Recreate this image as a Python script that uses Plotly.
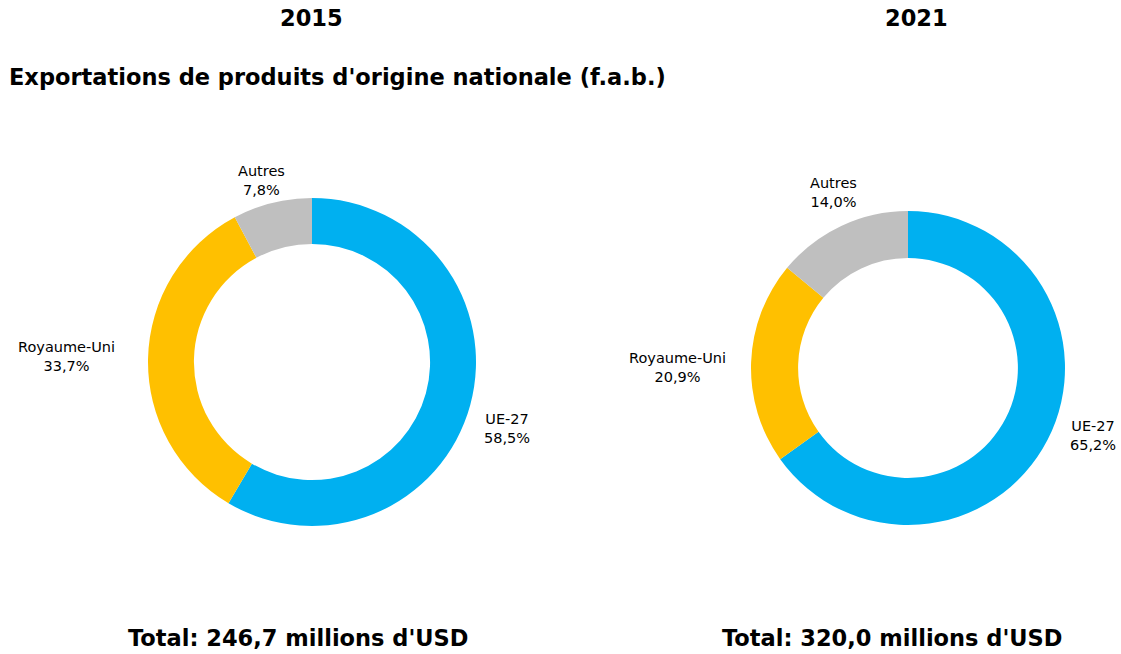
import plotly.graph_objects as go

categories = ["UE-27", "Royaume-Uni", "Autres"]
values_2015 = [58.5, 33.7, 7.8]
values_2021 = [65.2, 20.9, 14.0]
years = ["2015", "2021"]
totals = ["246,7", "320,0"]
colors = ["#00B0F0", "#FFC000", "#BFBFBF"]

W, H = 1121, 654
FONT = "DejaVu Sans"


def px(x):
    return x / W


def py(y):
    return 1 - y / H


def fmt(v):
    return f"{v:.1f}".replace(".", ",")


def dom(cx, cy, r):
    return dict(x=[px(cx - r), px(cx + r)], y=[py(cy + r), py(cy - r)])


# layout: pie centre/radius/hole and label positions (pixels)
pie_layout = [
    dict(c=(312, 362), r=164, hole=0.72,
         labels=[(507, 429), (66, 356), (261, 180)], year_x=311, total_x=298),
    dict(c=(908, 368), r=157, hole=0.70,
         labels=[(1093, 435), (677, 367), (833, 193)], year_x=916, total_x=892),
]
series = [values_2015, values_2021]

fig = go.Figure()
ann = []
for vals, lay, yr, tot in zip(series, pie_layout, years, totals):
    fig.add_trace(go.Pie(
        labels=categories, values=vals, sort=False, direction="clockwise", rotation=0,
        hole=lay["hole"], domain=dom(*lay["c"], lay["r"]),
        marker=dict(colors=colors, line=dict(width=0)),
        textinfo="none", showlegend=False, hoverinfo="label+value",
    ))
    for c, v, (lx, ly) in zip(categories, vals, lay["labels"]):
        ann.append(dict(text=f"{c}<br>{fmt(v)}%", x=px(lx), y=py(ly), xref="paper", yref="paper",
                        xanchor="center", yanchor="middle", showarrow=False,
                        font=dict(family=FONT, size=14.5, color="#000")))
    ann.append(dict(text=f"<b>{yr}</b>", x=px(lay["year_x"]), y=py(18), xref="paper", yref="paper",
                    xanchor="center", yanchor="middle", showarrow=False,
                    font=dict(family=FONT, size=22.5, color="#000")))
    ann.append(dict(text=f"<b>Total: {tot} millions d'USD</b>", x=px(lay["total_x"]), y=py(638),
                    xref="paper", yref="paper", xanchor="center", yanchor="middle", showarrow=False,
                    font=dict(family=FONT, size=22.5, color="#000")))

ann.append(dict(text="<b>Exportations de produits d'origine nationale (f.a.b.)</b>",
                x=px(7), y=py(77), xref="paper", yref="paper", xanchor="left", yanchor="middle",
                showarrow=False, font=dict(family=FONT, size=22.5, color="#000")))

fig.update_layout(width=W, height=H, margin=dict(l=0, r=0, t=0, b=0),
                  paper_bgcolor="white", plot_bgcolor="white", annotations=ann)
fig.write_html("out.html", config={"displayModeBar": False},
               post_script="document.body.style.margin='0px';")
